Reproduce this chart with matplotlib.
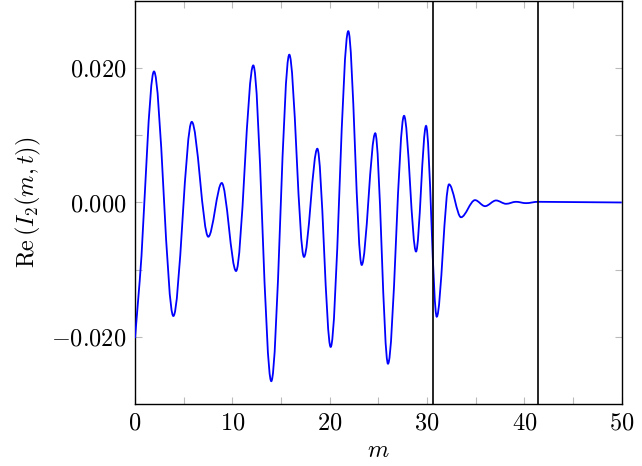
import matplotlib
matplotlib.use("Agg")
import matplotlib.pyplot as plt
from matplotlib.path import Path
from matplotlib.patches import PathPatch

# turning points of the curve (m, Re I_2)
m_pts = [0.0, 0.48, 1.95, 3.94, 5.83, 7.53, 8.91, 10.38, 12.15, 14.0,
         15.85, 17.36, 18.73, 20.1, 21.91, 23.29, 24.68, 25.99, 27.64,
         28.87, 29.9, 31.0, 32.26, 33.49, 34.93, 35.96, 37.09, 38.12,
         39.14, 40.17, 41.4, 50.0]
re_pts = [-0.0202, -0.0117, 0.0195, -0.0169, 0.0120, -0.0051, 0.0029,
          -0.0102, 0.0204, -0.0266, 0.0220, -0.0081, 0.0080, -0.0215,
          0.0255, -0.0093, 0.0103, -0.0240, 0.0129, -0.0073, 0.0114,
          -0.0170, 0.0027, -0.0022, 0.00035, -0.00055, 0.0003, -0.0002,
          0.0001, -0.0001, 0.0001, 0.0]

vline_m = [30.6, 41.45]
xticks = [0, 10, 20, 30, 40, 50]
xticks_minor = [5, 15, 25, 35, 45]
yticks = [-0.02, 0.0, 0.02]
yticks_minor = [-0.01, 0.01]
ytick_labels = [r"$-0.020$", r"$0.000$", r"$0.020$"]

plt.rcParams["mathtext.fontset"] = "cm"
plt.rcParams["font.family"] = "serif"
plt.rcParams["font.serif"] = ["cmr10", "DejaVu Serif"]


def smooth_path(xs, ys):
    # first stretch is almost straight, the rest has flat tangents at the turning points
    slopes = [0.0] * len(xs)
    s0 = (ys[1] - ys[0]) / (xs[1] - xs[0])
    slopes[0] = s0
    slopes[1] = s0
    verts = [(xs[0], ys[0])]
    codes = [Path.MOVETO]
    for i in range(len(xs) - 1):
        d = (xs[i + 1] - xs[i]) / 3.0
        verts.append((xs[i] + d, ys[i] + slopes[i] * d))
        verts.append((xs[i + 1] - d, ys[i + 1] - slopes[i + 1] * d))
        verts.append((xs[i + 1], ys[i + 1]))
        codes += [Path.CURVE4] * 3
    return Path(verts, codes)


fig = plt.figure(figsize=(6.42, 4.66), dpi=100)
ax = fig.add_axes([0.2103, 0.133, 0.7581, 0.865])

ax.add_patch(PathPatch(smooth_path(m_pts, re_pts), fill=False,
                       edgecolor=(0, 0, 1), linewidth=1.3, zorder=3))
for xv in vline_m:
    ax.axvline(xv, color="black", linewidth=1.2, zorder=4)

ax.set_xlim(0, 50)
ax.set_ylim(-0.03, 0.03)
ax.set_xticks(xticks)
ax.set_xticklabels([rf"${t}$" for t in xticks])
ax.set_xticks(xticks_minor, minor=True)
ax.set_yticks(yticks)
ax.set_yticklabels(ytick_labels)
ax.set_yticks(yticks_minor, minor=True)

ax.tick_params(which="both", direction="in", top=True, right=True,
               length=5, width=0.8, color="#bbbbbb", labelsize=17.5, pad=6)
for sp in ax.spines.values():
    sp.set_linewidth(1.0)

ax.set_xlabel(r"$m$", fontsize=17.5, labelpad=4)
ax.set_ylabel(r"$\mathrm{Re}\,(I_2(m,t))$", fontsize=17.5, labelpad=6)

fig.savefig("out.png", dpi=100)
